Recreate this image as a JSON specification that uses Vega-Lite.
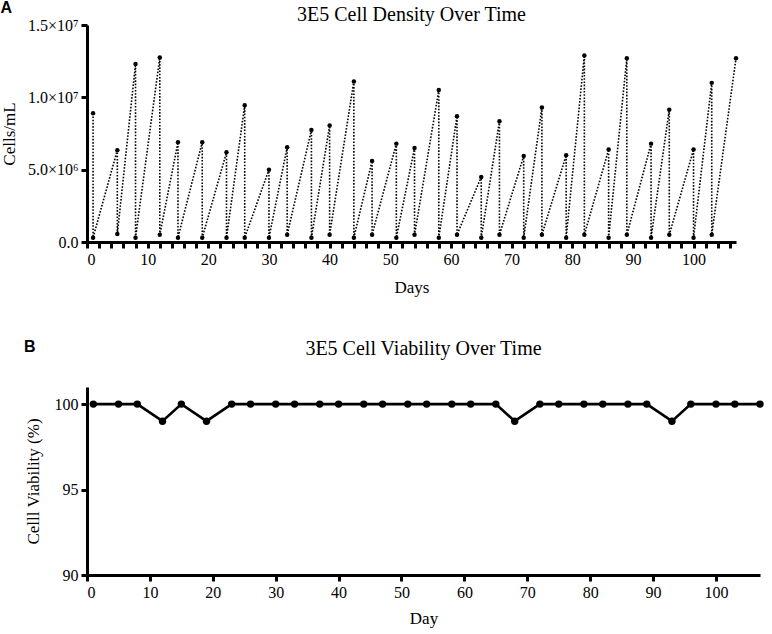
{
  "$schema": "https://vega.github.io/schema/vega-lite/v6.json",
  "padding": {"left": 0, "top": 0, "right": 4, "bottom": 4},
  "background": "white",
  "datasets": {
    "density": [
      {"day": 1, "cells": 8900000, "seq": 1},
      {"day": 1, "cells": 300000, "seq": 2},
      {"day": 5, "cells": 6350000, "seq": 3},
      {"day": 5, "cells": 550000, "seq": 4},
      {"day": 8, "cells": 12300000, "seq": 5},
      {"day": 8, "cells": 300000, "seq": 6},
      {"day": 12, "cells": 12750000, "seq": 7},
      {"day": 12, "cells": 500000, "seq": 8},
      {"day": 15, "cells": 6900000, "seq": 9},
      {"day": 15, "cells": 300000, "seq": 10},
      {"day": 19, "cells": 6900000, "seq": 11},
      {"day": 19, "cells": 300000, "seq": 12},
      {"day": 23, "cells": 6200000, "seq": 13},
      {"day": 23, "cells": 300000, "seq": 14},
      {"day": 26, "cells": 9450000, "seq": 15},
      {"day": 26, "cells": 300000, "seq": 16},
      {"day": 30, "cells": 5000000, "seq": 17},
      {"day": 30, "cells": 300000, "seq": 18},
      {"day": 33, "cells": 6550000, "seq": 19},
      {"day": 33, "cells": 500000, "seq": 20},
      {"day": 37, "cells": 7750000, "seq": 21},
      {"day": 37, "cells": 300000, "seq": 22},
      {"day": 40, "cells": 8050000, "seq": 23},
      {"day": 40, "cells": 500000, "seq": 24},
      {"day": 44, "cells": 11100000, "seq": 25},
      {"day": 44, "cells": 300000, "seq": 26},
      {"day": 47, "cells": 5600000, "seq": 27},
      {"day": 47, "cells": 500000, "seq": 28},
      {"day": 51, "cells": 6800000, "seq": 29},
      {"day": 51, "cells": 300000, "seq": 30},
      {"day": 54, "cells": 6500000, "seq": 31},
      {"day": 54, "cells": 500000, "seq": 32},
      {"day": 58, "cells": 10500000, "seq": 33},
      {"day": 58, "cells": 300000, "seq": 34},
      {"day": 61, "cells": 8700000, "seq": 35},
      {"day": 61, "cells": 500000, "seq": 36},
      {"day": 65, "cells": 4500000, "seq": 37},
      {"day": 65, "cells": 300000, "seq": 38},
      {"day": 68, "cells": 8350000, "seq": 39},
      {"day": 68, "cells": 500000, "seq": 40},
      {"day": 72, "cells": 5950000, "seq": 41},
      {"day": 72, "cells": 300000, "seq": 42},
      {"day": 75, "cells": 9300000, "seq": 43},
      {"day": 75, "cells": 500000, "seq": 44},
      {"day": 79, "cells": 6000000, "seq": 45},
      {"day": 79, "cells": 300000, "seq": 46},
      {"day": 82, "cells": 12900000, "seq": 47},
      {"day": 82, "cells": 500000, "seq": 48},
      {"day": 86, "cells": 6400000, "seq": 49},
      {"day": 86, "cells": 300000, "seq": 50},
      {"day": 89, "cells": 12700000, "seq": 51},
      {"day": 89, "cells": 500000, "seq": 52},
      {"day": 93, "cells": 6800000, "seq": 53},
      {"day": 93, "cells": 300000, "seq": 54},
      {"day": 96, "cells": 9150000, "seq": 55},
      {"day": 96, "cells": 500000, "seq": 56},
      {"day": 100, "cells": 6400000, "seq": 57},
      {"day": 100, "cells": 300000, "seq": 58},
      {"day": 103, "cells": 11000000, "seq": 59},
      {"day": 103, "cells": 500000, "seq": 60},
      {"day": 107, "cells": 12700000, "seq": 61}
    ],
    "viability": [
      {"day": 1, "viability": 100},
      {"day": 5, "viability": 100},
      {"day": 8, "viability": 100},
      {"day": 12, "viability": 99},
      {"day": 15, "viability": 100},
      {"day": 19, "viability": 99},
      {"day": 23, "viability": 100},
      {"day": 26, "viability": 100},
      {"day": 30, "viability": 100},
      {"day": 33, "viability": 100},
      {"day": 37, "viability": 100},
      {"day": 40, "viability": 100},
      {"day": 44, "viability": 100},
      {"day": 47, "viability": 100},
      {"day": 51, "viability": 100},
      {"day": 54, "viability": 100},
      {"day": 58, "viability": 100},
      {"day": 61, "viability": 100},
      {"day": 65, "viability": 100},
      {"day": 68, "viability": 99},
      {"day": 72, "viability": 100},
      {"day": 75, "viability": 100},
      {"day": 79, "viability": 100},
      {"day": 82, "viability": 100},
      {"day": 86, "viability": 100},
      {"day": 89, "viability": 100},
      {"day": 93, "viability": 99},
      {"day": 96, "viability": 100},
      {"day": 100, "viability": 100},
      {"day": 103, "viability": 100},
      {"day": 107, "viability": 100}
    ]
  },
  "config": {
    "view": {"stroke": null},
    "font": "Liberation Serif",
    "concat": {"spacing": 44},
    "title": {"font": "Liberation Serif", "fontSize": 20, "fontWeight": "normal", "color": "black"},
    "axis": {
      "grid": false,
      "domainColor": "black",
      "domainWidth": 3,
      "tickColor": "black",
      "tickWidth": 3,
      "tickSize": 6,
      "labelColor": "black",
      "labelFont": "Liberation Serif",
      "labelFontSize": 16,
      "labelPadding": 3,
      "labelOverlap": false,
      "labelBound": false,
      "titleColor": "black",
      "titleFont": "Liberation Serif",
      "titleFontSize": 17,
      "titleFontWeight": "normal"
    }
  },
  "vconcat": [
    {
      "title": {"text": "A", "anchor": "start", "frame": "bounds", "font": "Liberation Sans", "fontWeight": "bold", "fontSize": 16, "offset": -11},
      "vconcat": [
        {
          "title": {"text": "3E5 Cell Density Over Time", "offset": -8},
          "width": 649,
          "height": 217,
          "data": {"name": "density"},
          "encoding": {
            "x": {
              "field": "day",
              "type": "quantitative",
              "scale": {"domain": [0, 107], "nice": false, "zero": false},
              "axis": {
                "title": "Days",
                "values": [0, 2, 4, 6, 8, 10, 12, 14, 16, 18, 20, 22, 24, 26, 28, 30, 32, 34, 36, 38, 40, 42, 44, 46, 48, 50, 52, 54, 56, 58, 60, 62, 64, 66, 68, 70, 72, 74, 76, 78, 80, 82, 84, 86, 88, 90, 92, 94, 96, 98, 100, 102, 104, 106],
                "labelExpr": "datum.value % 10 == 0 ? format(datum.value, 'd') : ''",
                "labelOverlap": false,
                "titlePadding": 12
              }
            },
            "y": {
              "field": "cells",
              "type": "quantitative",
              "scale": {"domain": [0, 15000000], "nice": false},
              "axis": {
                "title": "Cells/mL",
                "values": [0, 5000000, 10000000, 15000000],
                "labelExpr": "datum.value == 0 ? '0.0' : datum.value == 5000000 ? '5.0×10⁶' : datum.value == 10000000 ? '1.0×10⁷' : '1.5×10⁷'",
                "titlePadding": 9
              }
            }
          },
          "layer": [
            {
              "mark": {"type": "line", "color": "black", "strokeWidth": 1.6, "strokeDash": [1.6, 1.6]},
              "encoding": {"order": {"field": "seq"}}
            },
            {
              "mark": {"type": "point", "filled": true, "color": "black", "opacity": 1, "size": 20}
            }
          ]
        }
      ]
    },
    {
      "title": {"text": "B", "anchor": "start", "frame": "bounds", "font": "Liberation Sans", "fontWeight": "bold", "fontSize": 16, "offset": -16},
      "vconcat": [
        {
          "title": {"text": "3E5 Cell Viability Over Time", "offset": 28},
          "width": 673,
          "height": 188,
          "data": {"name": "viability"},
          "encoding": {
            "x": {
              "field": "day",
              "type": "quantitative",
              "scale": {"domain": [0, 107], "nice": false, "zero": false},
              "axis": {"title": "Day", "values": [0, 10, 20, 30, 40, 50, 60, 70, 80, 90, 100], "format": "d", "titlePadding": 10}
            },
            "y": {
              "field": "viability",
              "type": "quantitative",
              "scale": {"domain": [90, 101], "nice": false, "zero": false},
              "axis": {"title": "Celll Viability (%)", "values": [90, 95, 100], "titlePadding": 12}
            }
          },
          "layer": [
            {
              "mark": {"type": "line", "color": "black", "strokeWidth": 2.6}
            },
            {
              "mark": {"type": "point", "filled": true, "color": "black", "opacity": 1, "size": 55}
            }
          ]
        }
      ]
    }
  ]
}
